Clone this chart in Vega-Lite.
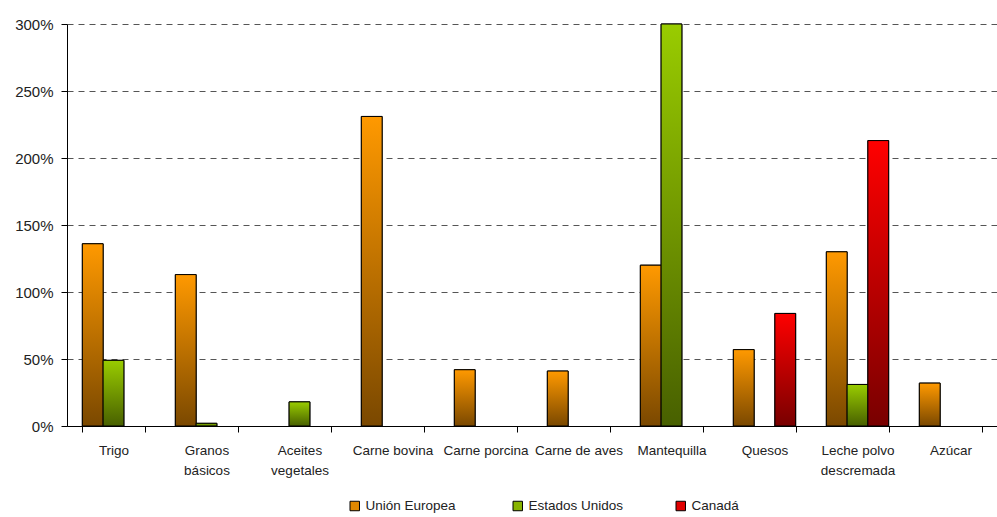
{
  "$schema": "https://vega.github.io/schema/vega-lite/v6.json",
  "autosize": "none",
  "width": 930,
  "height": 402,
  "padding": {"left": 67, "top": 24, "right": 0, "bottom": 91},
  "background": "white",
  "config": {
    "view": {"stroke": null},
    "font": "Liberation Sans"
  },
  "data": {
    "values": [
      {"producto": "Trigo", "region": "Unión Europea", "valor": 136},
      {"producto": "Trigo", "region": "Estados Unidos", "valor": 49},
      {"producto": "Granos básicos", "region": "Unión Europea", "valor": 113},
      {"producto": "Granos básicos", "region": "Estados Unidos", "valor": 2},
      {"producto": "Aceites vegetales", "region": "Estados Unidos", "valor": 18},
      {"producto": "Carne bovina", "region": "Unión Europea", "valor": 231},
      {"producto": "Carne porcina", "region": "Unión Europea", "valor": 42},
      {"producto": "Carne de aves", "region": "Unión Europea", "valor": 41},
      {"producto": "Mantequilla", "region": "Unión Europea", "valor": 120},
      {"producto": "Mantequilla", "region": "Estados Unidos", "valor": 300},
      {"producto": "Quesos", "region": "Unión Europea", "valor": 57},
      {"producto": "Quesos", "region": "Canadá", "valor": 84},
      {"producto": "Leche polvo descremada", "region": "Unión Europea", "valor": 130},
      {"producto": "Leche polvo descremada", "region": "Estados Unidos", "valor": 31},
      {"producto": "Leche polvo descremada", "region": "Canadá", "valor": 213},
      {"producto": "Azúcar", "region": "Unión Europea", "valor": 32}
    ]
  },
  "encoding": {
    "x": {
      "field": "producto",
      "type": "nominal",
      "sort": ["Trigo", "Granos básicos", "Aceites vegetales", "Carne bovina", "Carne porcina", "Carne de aves", "Mantequilla", "Quesos", "Leche polvo descremada", "Azúcar"],
      "scale": {"paddingInner": 0.33, "paddingOuter": 0.165},
      "axis": {
        "title": null,
        "labelAngle": 0,
        "labelFontSize": 13.5,
        "labelColor": "#222",
        "labelPadding": 11,
        "labelLineHeight": 20,
        "labelLimit": 200,
        "domainColor": "black",
        "tickColor": "black",
        "tickBand": "extent",
        "tickSize": 6,
        "labelExpr": "datum.label == 'Granos básicos' ? ['Granos', 'básicos'] : datum.label == 'Aceites vegetales' ? ['Aceites', 'vegetales'] : datum.label == 'Leche polvo descremada' ? ['Leche polvo', 'descremada'] : datum.label"
      }
    },
    "xOffset": {
      "field": "region",
      "type": "nominal",
      "sort": ["Unión Europea", "Estados Unidos", "Canadá"],
      "scale": {"domain": ["Unión Europea", "Estados Unidos", "Canadá"], "paddingInner": 0, "paddingOuter": 0}
    },
    "y": {
      "field": "valor",
      "type": "quantitative",
      "scale": {"domain": [0, 300], "nice": false},
      "axis": {
        "title": null,
        "values": [0, 50, 100, 150, 200, 250, 300],
        "labelExpr": "datum.value + '%'",
        "labelFontSize": 15,
        "labelColor": "#222",
        "labelPadding": 8,
        "domainColor": "black",
        "tickColor": "black",
        "tickSize": 6,
        "gridColor": "#555",
        "gridDash": [6, 5],
        "gridWidth": 1
      }
    }
  },
  "layer": [
    {
      "mark": {"type": "bar", "stroke": "black", "strokeWidth": 1},
      "encoding": {
        "color": {
          "field": "region",
          "type": "nominal",
          "sort": ["Unión Europea", "Estados Unidos", "Canadá"],
          "scale": {
            "domain": ["Unión Europea", "Estados Unidos", "Canadá"],
            "range": ["#e08800", "#88b400", "#e00000"]
          },
          "legend": {
            "title": null,
            "orient": "none",
            "legendX": 281,
            "legendY": 475,
            "direction": "horizontal",
            "columns": 3,
            "symbolType": "square",
            "symbolSize": 90,
            "symbolStrokeColor": "black",
            "symbolStrokeWidth": 1,
            "symbolOpacity": 1,
            "labelFontSize": 13.5,
            "labelColor": "#222",
            "labelLimit": 200,
            "columnPadding": 50,
            "gridAlign": "all"
          }
        }
      }
    },
    {
      "mark": {"type": "bar", "stroke": "black", "strokeWidth": 1},
      "encoding": {
        "color": {
          "condition": [
            {"test": "datum.region == 'Unión Europea'", "value": {"gradient": "linear", "x1": 0, "y1": 0, "x2": 0, "y2": 1, "stops": [{"offset": 0, "color": "#ff9900"}, {"offset": 1, "color": "#7a4800"}]}},
            {"test": "datum.region == 'Estados Unidos'", "value": {"gradient": "linear", "x1": 0, "y1": 0, "x2": 0, "y2": 1, "stops": [{"offset": 0, "color": "#99cc00"}, {"offset": 1, "color": "#486000"}]}}
          ],
          "value": {"gradient": "linear", "x1": 0, "y1": 0, "x2": 0, "y2": 1, "stops": [{"offset": 0, "color": "#ff0000"}, {"offset": 1, "color": "#780000"}]}
        }
      }
    }
  ]
}
